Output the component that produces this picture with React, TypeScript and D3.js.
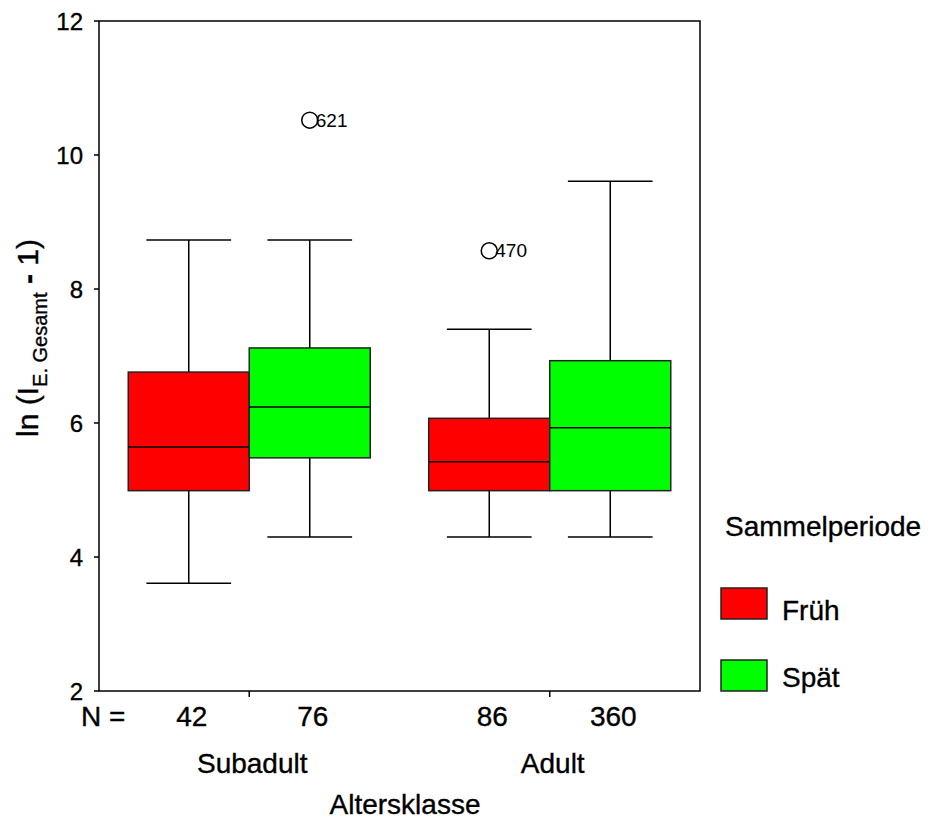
import React from "react";
import * as d3 from "d3";

const groups = ["Subadult", "Adult"];
const periods = ["Früh", "Spät"];
const periodColors = ["#ff0000", "#00ff00"];

// box stats per group x period: [min, q1, median, q3, max]
const boxGroup = ["Subadult", "Subadult", "Adult", "Adult"];
const boxPeriod = ["Früh", "Spät", "Früh", "Spät"];
const boxMin = [3.61, 4.3, 4.3, 4.3];
const boxQ1 = [4.99, 5.48, 4.99, 4.99];
const boxMedian = [5.64, 6.24, 5.42, 5.93];
const boxQ3 = [6.76, 7.12, 6.07, 6.93];
const boxMax = [8.73, 8.73, 7.4, 9.61];
const boxN = [42, 76, 86, 360];

const outlierGroup = ["Subadult", "Adult"];
const outlierPeriod = ["Spät", "Früh"];
const outlierValue = [10.52, 8.57];
const outlierLabel = ["621", "470"];

const yTicks = [2, 4, 6, 8, 10, 12];

const W = 941;
const H = 822;
const left = 99;
const right = 700;
const top = 21;
const bottom = 691;
const FONT = "'Liberation Sans', Arial, Helvetica, sans-serif";
const TS = { stroke: "#000", strokeWidth: 0.35 };

export default function App() {
  const y = d3.scaleLinear().domain([2, 12]).range([bottom, top]);
  const xg = d3.scaleBand().domain(groups).range([left, right]).padding(0);
  const half = 121;
  const xp = d3.scaleBand().domain(periods).range([-half, half]).padding(0);
  const bw = xp.bandwidth();
  const capW = bw * 0.7;
  const boxX = (g: string, p: string) => (xg(g) as number) + xg.bandwidth() / 2 + (xp(p) as number);
  const boxC = (g: string, p: string) => boxX(g, p) + bw / 2;

  return (
    <svg width={W} height={H} style={{ position: "absolute", left: 0, top: 0, background: "#fff" }} fontFamily={FONT}>
      <rect x={0} y={0} width={W} height={H} fill="#fff" />
      {/* frame */}
      <rect x={left} y={top} width={right - left} height={bottom - top} fill="none" stroke="#000" strokeWidth={1.5} />
      {/* y ticks */}
      {yTicks.map((t) => (
        <g key={t}>
          <line x1={left - 5} x2={left} y1={y(t)} y2={y(t)} stroke="#000" strokeWidth={1.5} />
          <text x={83} y={y(t) + 8.5} textAnchor="end" fontSize={24} fill="#000" {...TS}>
            {t}
          </text>
        </g>
      ))}
      {/* x ticks at group centers */}
      {groups.map((g) => (
        <line key={g} x1={(xg(g) as number) + xg.bandwidth() / 2} x2={(xg(g) as number) + xg.bandwidth() / 2} y1={bottom} y2={bottom + 6} stroke="#000" strokeWidth={1.5} />
      ))}
      {/* boxes */}
      {boxGroup.map((g, i) => {
        const p = boxPeriod[i];
        const x0 = boxX(g, p);
        const c = boxC(g, p);
        const color = periodColors[periods.indexOf(p)];
        return (
          <g key={i}>
            <line x1={c} x2={c} y1={y(boxMax[i])} y2={y(boxQ3[i])} stroke="#000" strokeWidth={1.5} />
            <line x1={c} x2={c} y1={y(boxQ1[i])} y2={y(boxMin[i])} stroke="#000" strokeWidth={1.5} />
            <line x1={c - capW / 2} x2={c + capW / 2} y1={y(boxMax[i])} y2={y(boxMax[i])} stroke="#000" strokeWidth={1.5} />
            <line x1={c - capW / 2} x2={c + capW / 2} y1={y(boxMin[i])} y2={y(boxMin[i])} stroke="#000" strokeWidth={1.5} />
            <rect x={x0} y={y(boxQ3[i])} width={bw} height={y(boxQ1[i]) - y(boxQ3[i])} fill={color} stroke="#222" strokeWidth={1.5} />
            <line x1={x0} x2={x0 + bw} y1={y(boxMedian[i])} y2={y(boxMedian[i])} stroke="#000" strokeWidth={1.5} />
            <text x={c + 3} y={726} textAnchor="middle" fontSize={28} fill="#000" {...TS}>
              {boxN[i]}
            </text>
          </g>
        );
      })}
      {/* outliers */}
      {outlierGroup.map((g, i) => {
        const c = boxC(g, outlierPeriod[i]);
        const yy = y(outlierValue[i]);
        return (
          <g key={"o" + i}>
            <circle cx={c} cy={yy} r={8} fill="none" stroke="#000" strokeWidth={1.5} />
            <text x={c + 6} y={yy + 6.5} fontSize={19} fill="#000">
              {outlierLabel[i]}
            </text>
          </g>
        );
      })}
      <text x={81} y={726} fontSize={28} fill="#000" {...TS}>N =</text>
      {groups.map((g) => (
        <text key={g} x={(xg(g) as number) + xg.bandwidth() / 2 + 3} y={773} textAnchor="middle" fontSize={28} fill="#000" {...TS}>
          {g}
        </text>
      ))}
      <text x={405} y={814} textAnchor="middle" fontSize={28} fill="#000" {...TS}>Altersklasse</text>
      {/* y title */}
      <text transform="translate(38,338) rotate(-90)" textAnchor="middle" fontSize={30} fill="#000" {...TS}>
        <tspan>ln (I</tspan>
        <tspan fontSize={20} dy={9}>E. Gesamt</tspan>
        <tspan dy={-9}> </tspan>
        <tspan fontWeight="bold">-</tspan>
        <tspan> 1)</tspan>
      </text>
      {/* legend */}
      <text x={725} y={536} fontSize={28} fill="#000" {...TS}>Sammelperiode</text>
      {periods.map((p, i) => (
        <g key={p}>
          <rect x={721} y={588 + i * 72} width={46} height={31} fill={periodColors[i]} stroke="#222" strokeWidth={1.5} />
          <text x={782} y={620 + i * 67} fontSize={28} fill="#000" {...TS}>{p}</text>
        </g>
      ))}
    </svg>
  );
}
